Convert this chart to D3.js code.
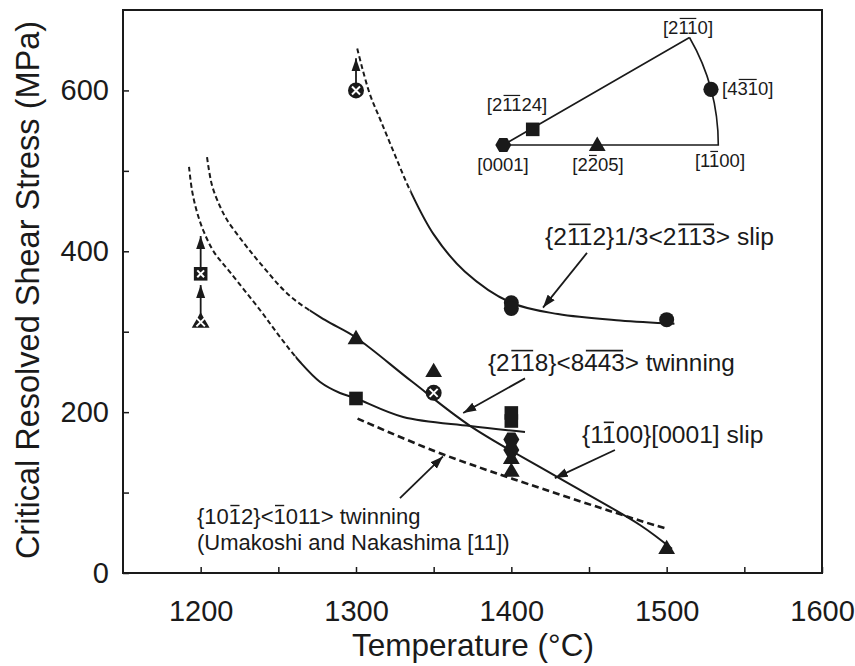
<!DOCTYPE html>
<html><head><meta charset="utf-8">
<script src="https://cdn.jsdelivr.net/npm/d3@7"></script>
<style>body{margin:0;background:#fff}</style>
</head><body>
<svg id="c" width="855" height="666"></svg>
<script>
// ---------------- data ----------------
const xMajor = [1200, 1300, 1400, 1500, 1600];
const xMinor = [1250, 1350, 1450, 1550];
const yMajor = [0, 200, 400, 600];
const yMinor = [100, 300, 500];

// measured points [T (°C), CRSS (MPa)]
const circlePts   = [[1400, 336], [1400, 329], [1500, 315]];
const trianglePts = [[1300, 292], [1350, 251], [1400, 143], [1400, 127], [1500, 31]];
const squarePts   = [[1300, 217], [1400, 199], [1400, 189]];
const hexagonPts  = [[1400, 166], [1400, 153]];
const crossedCirclePts   = [[1300, 600], [1350, 224]];
const crossedSquarePts   = [[1200, 372]];
const crossedTrianglePts = [[1200, 313]];
// lower-bound arrows: [T, from value, to value]
const boundArrows = [[1300, 600, 640], [1200, 372, 419], [1200, 313, 358]];

// fitted curves
const curveBasal = [[1300.8, 652], [1304, 628], [1309, 595], [1316, 562], [1325, 520], [1335, 475], [1350, 421], [1370, 375], [1400, 336], [1430, 322], [1470, 314], [1505, 310]];
const curvePrism = [[1204.1, 517], [1207.3, 482], [1212.4, 456], [1217, 439], [1227.3, 411.5], [1238.2, 385.4], [1257.5, 344.4], [1280, 314.6], [1299.4, 293.4], [1336, 238], [1373.4, 183], [1429.2, 119.7], [1482.8, 59.7], [1503.4, 30]];
const curveTwin  = [[1192.5, 505], [1194.4, 476], [1197.6, 449], [1202.1, 424], [1208.6, 399], [1218.9, 374], [1238.2, 327], [1251.1, 293.4], [1264, 262.3], [1276.9, 237.5], [1289.7, 223.8], [1299.4, 217.6], [1330.3, 194], [1373.4, 182.8], [1408.8, 175.3]];
const curveUmakoshi = [[1301, 192], [1350, 152], [1401, 117], [1483, 65], [1500, 55]];
const dashUntil = {basal: 1335, prism: 1270, twin: 1261};

// annotation arrows [fromT, fromV, toT, toV]
const annoArrows = [[1448.7, 398, 1420.4, 330], [1408.8, 242, 1369, 199], [1466.7, 153, 1428, 118], [1328.3, 93, 1356, 145]];

// inset stereographic triangle poles: angle (deg from [1-100] line), fraction of radius
const insetPoles = [
  {label: "[0001]", a: 0, r: 0, sym: "hex"},
  {label: "[2~1~124]", a: 28, r: 0.155, sym: "square"},
  {label: "[2~205]", a: 0, r: 0.437, sym: "triangle"},
  {label: "[4~3~10]", a: 15, r: 1, sym: "circle"}
];
const insetCorners = [{label: "[2~1~10]", a: 30, r: 1}, {label: "[1~100]", a: 0, r: 1}];

// ---------------- drawing ----------------
const W = 855, H = 666;
const FONT = "'Liberation Sans', Arial, Helvetica, sans-serif";
const INK = "#1a1a1a";
const svg = d3.select('#c');
svg.append('rect').attr('width', W).attr('height', H).attr('fill', '#fff');

const x = d3.scaleLinear().domain([1150, 1600]).range([123, 822]);
const y = d3.scaleLinear().domain([0, 700]).range([573, 10]);

const defs = svg.append('defs');
defs.append('marker').attr('id', 'ah').attr('viewBox', '0 0 13 10').attr('refX', 13).attr('refY', 5)
  .attr('markerWidth', 13).attr('markerHeight', 10).attr('markerUnits', 'userSpaceOnUse').attr('orient', 'auto')
  .append('path').attr('d', 'M0,0.5 L13,5 L0,9.5 Z').attr('fill', INK);

const root = svg.append('g').attr('font-family', FONT);

// overline text helper: "~" marks next char as barred
function barText(g, tx, ty, markup, size, anchor) {
  const chars = []; const bars = [];
  for (let i = 0; i < markup.length; i++) {
    if (markup[i] === '~') { bars.push(chars.length); continue; }
    chars.push(markup[i]);
  }
  const t = g.append('text').attr('x', tx).attr('y', ty).attr('font-size', size)
    .attr('text-anchor', anchor || 'start').attr('fill', INK).text(chars.join(''));
  const node = t.node();
  const runs = [];
  bars.forEach(i => {
    const last = runs[runs.length - 1];
    if (last && last[1] === i - 1) last[1] = i; else runs.push([i, i]);
  });
  runs.forEach(([a, b]) => {
    const s = node.getStartPositionOfChar(a), e = node.getEndPositionOfChar(b);
    g.append('line').attr('x1', s.x + size * 0.07).attr('x2', e.x - size * 0.07)
      .attr('y1', ty - size * 0.84).attr('y2', ty - size * 0.84)
      .attr('stroke', INK).attr('stroke-width', Math.max(1.1, size * 0.065));
  });
  return t;
}

// axes
const xAxis = d3.axisBottom(x).tickValues([...xMajor, ...xMinor].sort((a, b) => a - b))
  .tickSize(-6).tickPadding(27).tickFormat(d => xMajor.includes(d) ? d : '');
const yAxis = d3.axisLeft(y).tickValues([...yMajor, ...yMinor].sort((a, b) => a - b))
  .tickSize(-6).tickPadding(14).tickFormat(d => yMajor.includes(d) ? d : '');
const gx = root.append('g').attr('transform', 'translate(0,573)').call(xAxis);
const gy = root.append('g').attr('transform', 'translate(123,0)').call(yAxis);
[gx, gy].forEach(a => {
  a.attr('font-family', FONT).attr('font-size', 29);
  a.select('.domain').remove();
  a.selectAll('line').attr('stroke', INK).attr('stroke-width', 1.5);
  a.selectAll('text').attr('fill', INK);
});

// frame
root.append('rect').attr('x', x(1150)).attr('y', y(700)).attr('width', x(1600) - x(1150)).attr('height', y(0) - y(700))
  .attr('fill', 'none').attr('stroke', INK).attr('stroke-width', 2);

// titles
root.append('text').attr('transform', 'translate(39,290) rotate(-90)').attr('text-anchor', 'middle')
  .attr('font-size', 32.5).attr('fill', INK).text('Critical Resolved Shear Stress (MPa)');
root.append('text').attr('x', 473).attr('y', 656).attr('text-anchor', 'middle')
  .attr('font-size', 31.5).attr('fill', INK).text('Temperature (°C)');

// curves
const line = d3.line().x(d => x(d[0])).y(d => y(d[1])).curve(d3.curveCatmullRom.alpha(0.5));
let clipId = 0;
function splitCurve(data, split, dash) {
  const idA = 'clipA' + clipId, idB = 'clipB' + clipId; clipId++;
  defs.append('clipPath').attr('id', idA).append('rect').attr('x', 0).attr('y', 0).attr('width', x(split)).attr('height', H);
  defs.append('clipPath').attr('id', idB).append('rect').attr('x', x(split)).attr('y', 0).attr('width', W).attr('height', H);
  root.append('path').attr('d', line(data)).attr('fill', 'none').attr('stroke', INK).attr('stroke-width', 2)
    .attr('stroke-dasharray', dash).attr('clip-path', `url(#${idA})`);
  root.append('path').attr('d', line(data)).attr('fill', 'none').attr('stroke', INK).attr('stroke-width', 2)
    .attr('clip-path', `url(#${idB})`);
}
splitCurve(curveBasal, dashUntil.basal, '5,3');
splitCurve(curvePrism, dashUntil.prism, '5,3');
splitCurve(curveTwin, dashUntil.twin, '5,3');
root.append('path').attr('d', line(curveUmakoshi)).attr('fill', 'none').attr('stroke', INK)
  .attr('stroke-width', 2.6).attr('stroke-dasharray', '7,4');

// symbol paths
function shape(type, s) {
  const p = d3.path();
  if (type === 'circle') { p.arc(0, 0, s, 0, 2 * Math.PI); }
  else if (type === 'square') { p.rect(-s, -s, 2 * s, 2 * s); }
  else if (type === 'triangle') { p.moveTo(0, -s * 1.05); p.lineTo(s * 1.05, s * 0.75); p.lineTo(-s * 1.05, s * 0.75); p.closePath(); }
  else if (type === 'hex') {
    for (let k = 0; k < 6; k++) { const a = k * Math.PI / 3; const px = s * Math.cos(a), py = s * Math.sin(a); k ? p.lineTo(px, py) : p.moveTo(px, py); }
    p.closePath();
  }
  return p.toString();
}
function marks(data, type, s, crossed) {
  const gg = root.append('g');
  data.forEach(d => {
    const m = gg.append('g').attr('transform', `translate(${x(d[0])},${y(d[1])})`);
    m.append('path').attr('d', shape(type, s)).attr('fill', INK);
    if (crossed) {
      const c = s * 0.5, oy = type === 'triangle' ? s * 0.1 : 0;
      m.append('path').attr('d', `M${-c},${-c + oy}L${c},${c + oy}M${c},${-c + oy}L${-c},${c + oy}`)
        .attr('stroke', '#fff').attr('stroke-width', 2);
    }
  });
}

// lower-bound arrows
boundArrows.forEach(d => {
  root.append('line').attr('x1', x(d[0])).attr('x2', x(d[0])).attr('y1', y(d[1])).attr('y2', y(d[2]))
    .attr('stroke', INK).attr('stroke-width', 1.8).attr('marker-end', 'url(#ah)');
});

marks(circlePts, 'circle', 7.5);
marks(squarePts, 'square', 6.8);
marks(hexagonPts, 'hex', 8);
marks(trianglePts, 'triangle', 8);
marks(crossedCirclePts, 'circle', 8, true);
marks(crossedSquarePts, 'square', 6.8, true);
marks(crossedTrianglePts, 'triangle', 8.5, true);

// annotation arrows
annoArrows.forEach(d => {
  root.append('line').attr('x1', x(d[0])).attr('y1', y(d[1])).attr('x2', x(d[2])).attr('y2', y(d[3]))
    .attr('stroke', INK).attr('stroke-width', 1.8).attr('marker-end', 'url(#ah)');
});

// annotation labels
barText(root, 545, 245, '{2~1~12}1/3<2~1~1~3> slip', 24.6);
barText(root, 488, 371, '{2~1~18}<8~4~4~3> twinning', 24.3);
barText(root, 582, 443, '{1~100}[0001] slip', 24.6);
barText(root, 197, 524, '{10~12}<~1011> twinning', 22);
barText(root, 197, 550, '(Umakoshi and Nakashima [11])', 22);

// inset
const cx0 = 503.3, cy0 = 145;
const ang = d3.scaleLinear().domain([0, 30]).range([0, Math.PI / 6]);
const rad = d3.scaleLinear().domain([0, 1]).range([0, 215]);
const ip = (a, r) => [cx0 + rad(r) * Math.cos(ang(a)), cy0 - rad(r) * Math.sin(ang(a))];
const ins = root.append('g');
const tri = d3.path();
const pTop = ip(30, 1), pRight = ip(0, 1);
tri.moveTo(pTop[0], pTop[1]); tri.lineTo(cx0, cy0); tri.lineTo(pRight[0], pRight[1]);
tri.arc(cx0, cy0, rad(1), 0, -ang(30), true);
ins.append('path').attr('d', tri.toString()).attr('fill', 'none').attr('stroke', INK).attr('stroke-width', 1.6);
const insetSize = {hex: 8, square: 6.8, triangle: 8, circle: 7.6};
insetPoles.forEach(p => {
  const [px, py] = ip(p.a, p.r);
  ins.append('path').attr('d', shape(p.sym, insetSize[p.sym])).attr('transform', `translate(${px},${py})`).attr('fill', INK);
});
const insetLabelPos = {
  "[0001]": [503, 171, 'middle'], "[2~1~124]": [517, 111, 'middle'], "[2~205]": [598, 171, 'middle'],
  "[4~3~10]": [722, 95, 'start'], "[2~1~10]": [688, 34, 'middle'], "[1~100]": [720, 167, 'middle']
};
[...insetPoles, ...insetCorners].forEach(p => {
  const pos = insetLabelPos[p.label];
  barText(ins, pos[0], pos[1], p.label, 18.5, pos[2]);
});
</script>
</body></html>
